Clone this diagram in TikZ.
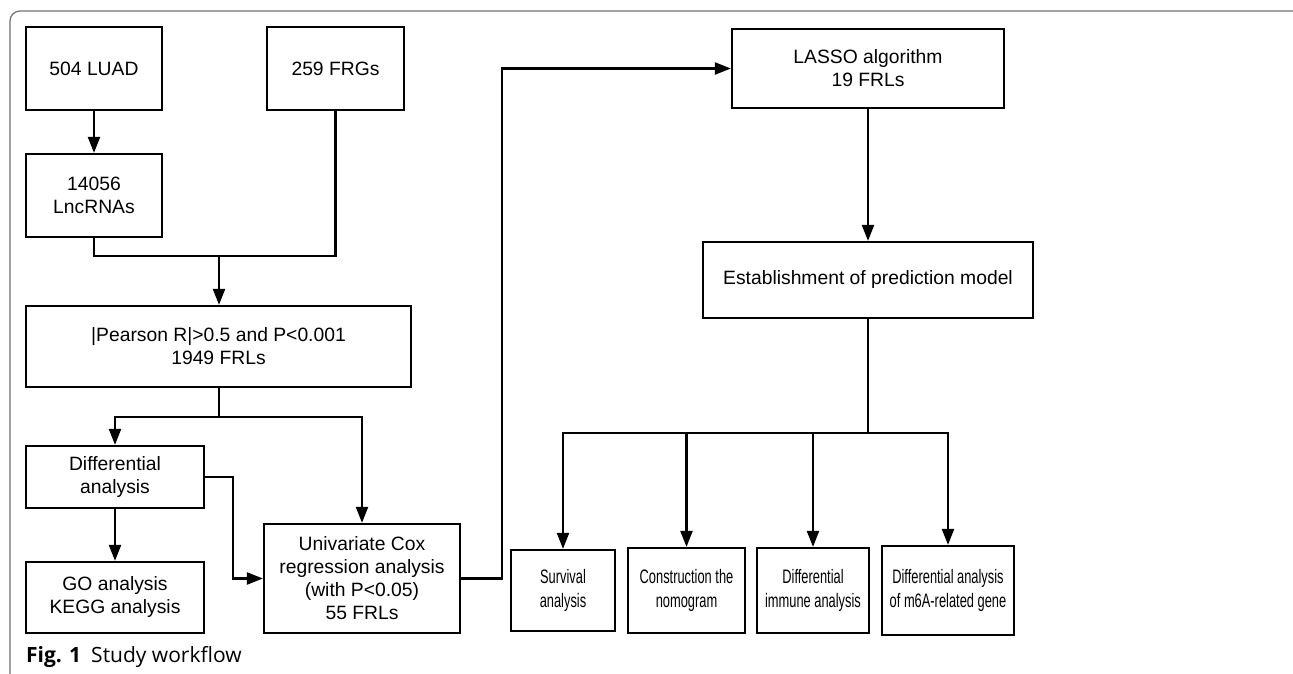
\documentclass[tikz,border=0pt]{standalone}
\usepackage{fontspec}
\setmainfont{Liberation Sans}
\newfontfamily\narrowfont[FakeStretch=0.66]{Liberation Sans}
\newfontfamily\capfont{Open Sans}
\usetikzlibrary{arrows.meta}
\definecolor{framegray}{HTML}{707070}
\begin{document}
\begin{tikzpicture}[x=1pt,y=-1pt,
  box/.style={draw=black, line width=2.2pt, align=center, inner sep=0pt,
    font=\fontsize{19.3}{23}\selectfont},
  nbox/.style={box, font=\narrowfont\fontsize{19.5}{24}\selectfont},
  conn/.style={draw=black, line width=2.2pt},
  arr/.style={conn, -{Triangle[length=16pt,width=12pt]}}
]
\useasboundingbox (0,0) rectangle (1293,674);
\begin{scope}
\clip (0,0) rectangle (1293,674);
\draw[framegray, line width=1.2pt, rounded corners=10pt] (10,11) rectangle (1305,690);
\end{scope}

\node[box, minimum width=136pt, minimum height=83pt] (luad) at (94,68.5) {504 LUAD};
\node[box, minimum width=137pt, minimum height=83pt] (frg) at (335.5,68.5) {259 FRGs};
\node[box, minimum width=136pt, minimum height=83pt] (lnc) at (94,195.5) {14056\\LncRNAs};
\node[box, minimum width=385pt, minimum height=81pt] (pear) at (218.5,346.5) {|Pearson R|>0.5 and P<0.001\\1949 FRLs};
\node[box, minimum width=178pt, minimum height=62pt] (diff) at (115,477) {Differential\\analysis};
\node[box, minimum width=178pt, minimum height=71pt] (go) at (115,597.5) {GO analysis\\KEGG analysis};
\node[box, minimum width=196pt, minimum height=109pt] (cox) at (362,578.5) {Univariate Cox\\regression analysis\\(with P<0.05)\\55 FRLs};
\node[box, minimum width=272pt, minimum height=79pt] (lasso) at (868,68.5) {LASSO algorithm\\19 FRLs};
\node[box, minimum width=330pt, minimum height=76pt] (est) at (868,280) {Establishment of prediction model};
\node[nbox, minimum width=104pt, minimum height=81pt] (surv) at (563,590.5) {Survival\\analysis};
\node[nbox, minimum width=117pt, minimum height=85pt] (cons) at (686.5,590.5) {Construction the\\nomogram};
\node[nbox, minimum width=112pt, minimum height=85pt] (imm) at (813,590.5) {Differential\\immune analysis};
\node[nbox, minimum width=132pt, minimum height=89pt] (m6a) at (948,590.5) {Differential analysis\\of m6A-related gene};

\coordinate (j1) at (219,256);
\coordinate (j2) at (219,417);
\coordinate (d1) at (233,477);
\coordinate (c1) at (502,578.5);
\coordinate (j3) at (868,433);

\draw[arr] (luad) -- (lnc);
\draw[conn] (lnc.south) |- (j1);
\draw[conn] (frg.south) |- (j1);
\draw[arr] (j1) -- (j1 |- pear.north);
\draw[conn] (pear.south -| j2) -- (j2);
\draw[arr] (j2) -| (diff.north);
\draw[arr] (j2) -| (cox.north);
\draw[arr] (diff) -- (go);
\draw[arr] (diff.east) -- (d1) |- (cox.west);
\draw[arr] (cox.east) -- (c1) |- (lasso.west);
\draw[arr] (lasso) -- (est);
\draw[conn] (est.south) -- (j3);
\draw[arr] (j3) -| (surv.north);
\draw[arr] (j3) -| (cons.north);
\draw[arr] (j3) -| (imm.north);
\draw[arr] (j3) -| (m6a.north);

\node[anchor=base west, inner sep=0pt, font=\capfont\fontsize{21}{24}\selectfont] (cap) at (26,662) {\textbf{Fig. 1}\hspace{10pt}Study workflow};
\end{tikzpicture}
\end{document}
